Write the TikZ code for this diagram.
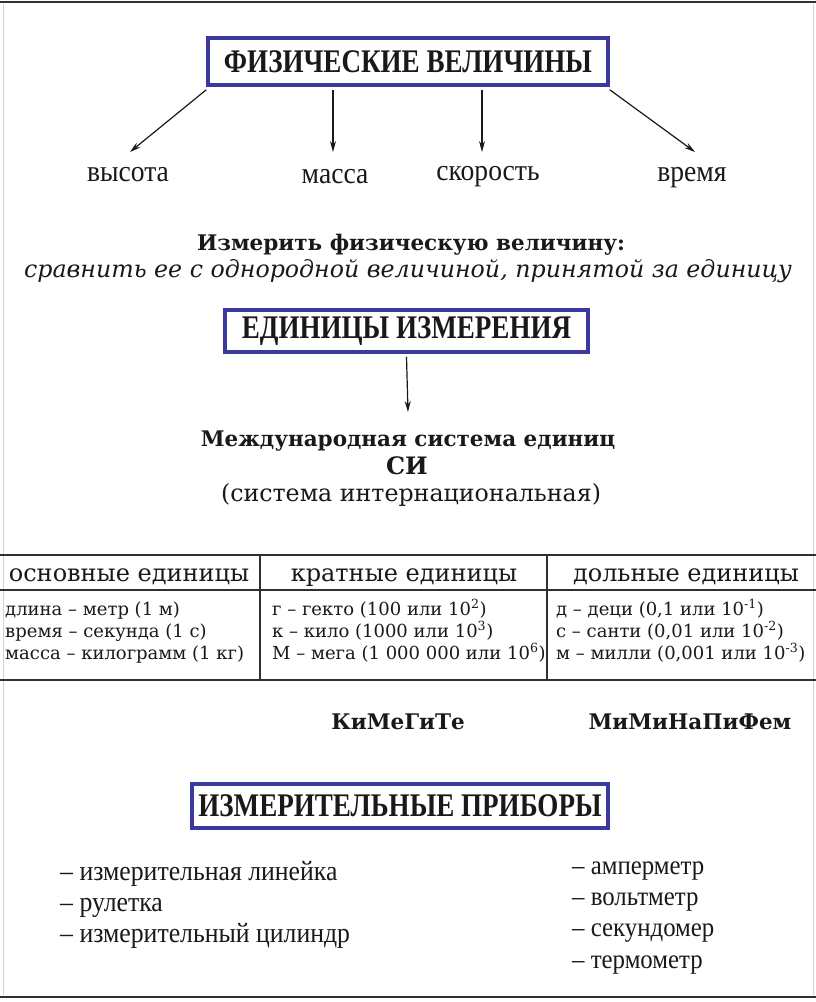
\documentclass[tikz,border=0pt]{standalone}
\usepackage{fontspec}
\setmainfont{DejaVu Serif}
\newfontfamily\condb[FakeStretch=0.82,Ligatures=TeX]{Liberation Serif Bold}
\newfontfamily\condr[FakeStretch=0.92,Ligatures=TeX]{Liberation Serif}
\usetikzlibrary{arrows.meta}
\definecolor{boxblue}{RGB}{58,58,158}
\definecolor{ink}{RGB}{25,25,25}
\begin{document}
\begin{tikzpicture}[x=1pt,y=-1pt,
  hbox/.style={draw=boxblue, line width=3.5pt, fill=white, inner sep=0pt,
    font=\condb\fontsize{33}{36}\selectfont, text=ink},
  lbl/.style={font=\condr\fontsize{30}{32}\selectfont, text=ink, inner sep=0pt, anchor=base},
  lst/.style={font=\condr\fontsize{27}{28}\selectfont, text=ink, anchor=base west, inner sep=0pt},
  lstl/.style={lst, font=\condr\fontsize{28}{30}\selectfont},
  sch/.style={font=\fontsize{23.7}{26}\selectfont, text=ink, inner sep=0pt, anchor=base},
  schb/.style={font=\bfseries\fontsize{21.5}{24}\selectfont, text=ink, inner sep=0pt, anchor=base},
  thead/.style={font=\fontsize{24}{26}\selectfont, text=ink, inner sep=0pt, anchor=base},
  tbody/.style={font=\fontsize{18}{22}\selectfont, text=ink, anchor=base west, inner sep=0pt},
  arr/.style={-{Stealth[length=11pt,width=6pt]}, line width=1.2pt, draw=ink},
  rule/.style={draw=ink!90, line width=2.5pt},
  edge/.style={draw=gray!35, line width=1pt}]
\useasboundingbox (0,0) rectangle (816,1002);
\fill[white] (0,0) rectangle (816,1002);
% page edges
\draw[rule] (0,2) -- (816,2);
\draw[rule] (0,997) -- (816,997);
\draw[edge] (3,4) -- (3,995);
\draw[edge] (813,4) -- (813,995);

% top block
\node[hbox, minimum width=400pt, minimum height=47pt] (fv) at (408,61.5) {ФИЗИЧЕСКИЕ ВЕЛИЧИНЫ};
\node[lbl] (vys) at (128,181) {высота};
\node[lbl] (mas) at (335,183) {масса};
\node[lbl] (sko) at (488,180) {скорость};
\node[lbl] (vre) at (692,181) {время};
\draw[arr] (fv.south west) ++(0,3) -- ([xshift=2pt,yshift=29pt]vys.base);
\draw[arr] ([xshift=-2pt]mas.base |- fv.south) ++(0,3) -- ([xshift=-2pt,yshift=31pt]mas.base);
\draw[arr] ([xshift=-6pt]sko.base |- fv.south) ++(0,3) -- ([xshift=-6pt,yshift=28pt]sko.base);
\draw[arr] (fv.south east) ++(0,3) -- ([xshift=3pt,yshift=29pt]vre.base);

\node[schb] (izm) at (411,250) {Измерить физическую величину:};
\node[sch, font=\itshape\fontsize{23.7}{26}\selectfont] (srav) at (408,277) {сравнить ее с однородной величиной, принятой за единицу};

\node[hbox, minimum width=363pt, minimum height=42pt] (ei) at (406.5,331) {ЕДИНИЦЫ ИЗМЕРЕНИЯ};
\node[schb] (mse) at (408,446) {Международная система единиц};
\node[schb, font=\bfseries\fontsize{24}{26}\selectfont] (si) at (407,474) {СИ};
\node[sch] (sint) at (411,501) {(система интернациональная)};
\draw[arr] (ei.south) ++(0,3) -- ([yshift=34pt]mse.base);

% table
\draw[rule] (0,555) -- (816,555);
\draw[rule] (0,590) -- (816,590);
\draw[rule] (0,680) -- (816,680);
\draw[rule] (260,555) -- (260,680);
\draw[rule] (547,555) -- (547,680);
\node[thead] (h1) at (129,581) {основные единицы};
\node[thead] (h2) at (404,581) {кратные единицы};
\node[thead] (h3) at (686,581) {дольные единицы};
\node[tbody] (b11) at (5,615) {длина – метр (1 м)};
\node[tbody] (b12) at (5,637) {время – секунда (1 с)};
\node[tbody] (b13) at (5,659) {масса – килограмм (1 кг)};
\node[tbody] (b21) at (272,615) {г – гекто (100 или 10\textsuperscript{2})};
\node[tbody] (b22) at (272,637) {к – кило (1000 или 10\textsuperscript{3})};
\node[tbody] (b23) at (272,659) {М – мега (1 000 000 или 10\textsuperscript{6})};
\node[tbody] (b31) at (556,615) {д – деци (0,1 или 10\textsuperscript{-1})};
\node[tbody] (b32) at (556,637) {с – санти (0,01 или 10\textsuperscript{-2})};
\node[tbody] (b33) at (556,659) {м – милли (0,001 или 10\textsuperscript{-3})};

\node[schb] (kim) at (398,729) {КиМеГиТе};
\node[schb] (mim) at (690,729) {МиМиНаПиФем};

\node[hbox, minimum width=416pt, minimum height=44pt] (ip) at (400,806) {ИЗМЕРИТЕЛЬНЫЕ ПРИБОРЫ};
\node[lstl] (l1) at (60,880) {– измерительная линейка};
\node[lstl] (l2) at (60,911) {– рулетка};
\node[lstl] (l3) at (60,942) {– измерительный цилиндр};
\node[lst] (r1) at (572,874) {– амперметр};
\node[lst] (r2) at (572,905) {– вольтметр};
\node[lst] (r3) at (572,936) {– секундомер};
\node[lst] (r4) at (572,968) {– термометр};
\end{tikzpicture}
\end{document}
